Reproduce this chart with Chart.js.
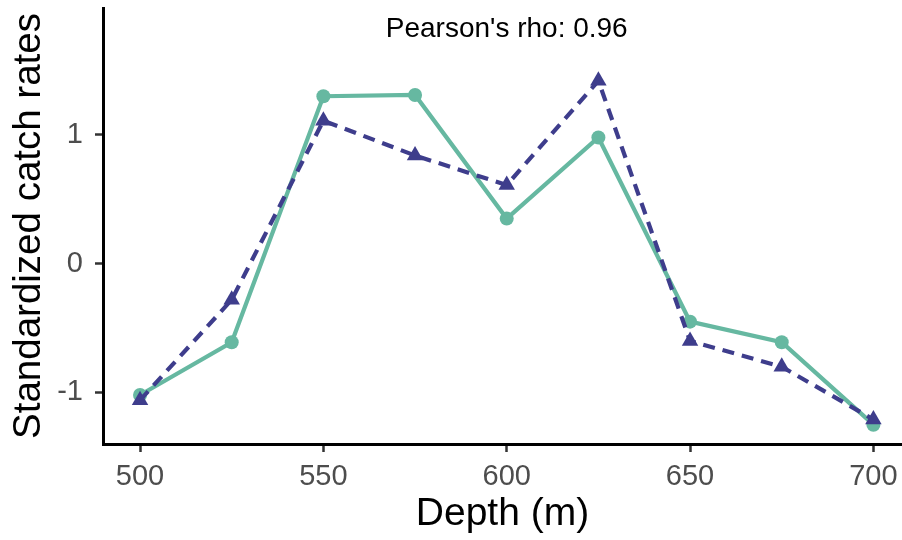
<!DOCTYPE html>
<html>
<head>
<meta charset="utf-8">
<script src="https://cdn.jsdelivr.net/npm/chart.js@4/dist/chart.umd.min.js"></script>
<style>
  html, body { margin: 0; padding: 0; background: #fff; }
  canvas { display: block; }
</style>
</head>
<body>
<canvas id="chart" width="902" height="540"></canvas>
<script>
// depths (m) and the two standardized catch-rate series
const depths = [500, 525, 550, 575, 600, 625, 650, 675, 700];
const seriesA = [-1.02, -0.61, 1.30, 1.31, 0.35, 0.98, -0.45, -0.61, -1.25];  // solid, circles
const seriesB = [-1.06, -0.28, 1.11, 0.84, 0.61, 1.42, -0.60, -0.80, -1.21];  // dashed, triangles

const xTicks = [500, 550, 600, 650, 700];
const yTicks = [-1, 0, 1];

const note = "Pearson's rho: 0.96";
const noteAt = {x: 600, y: 1.76};

const FONT = "'Liberation Sans', Arial, sans-serif";
const green = '#66b8a1';
const navy = '#3e3d8c';

function toPoints(ys) {
	let out = [];
	for (let i = 0; i < depths.length; i++) {
		out.push({x: depths[i], y: ys[i]});
	}
	return out;
}

// keep the scales from reserving extra room for half labels
function noPadding(scale) {
	scale.paddingTop = 0;
	scale.paddingBottom = 0;
	scale.paddingLeft = 0;
	scale.paddingRight = 0;
}

const notePlugin = {
	id: 'note',
	afterDatasetsDraw(chart) {
		const ctx = chart.ctx;
		const px = chart.scales.x.getPixelForValue(noteAt.x);
		const py = chart.scales.y.getPixelForValue(noteAt.y);
		ctx.save();
		ctx.font = '28px ' + FONT;
		ctx.fillStyle = '#000';
		ctx.textAlign = 'center';
		ctx.textBaseline = 'alphabetic';
		ctx.fillText(note, px, py);
		ctx.restore();
	}
};

new Chart(document.getElementById('chart'), {
	type: 'line',
	data: {
		datasets: [
			{
				data: toPoints(seriesB),
				borderColor: navy,
				backgroundColor: navy,
				borderWidth: 4.2,
				borderDash: [12, 8],
				pointStyle: 'triangle',
				pointRadius: 9.5,
				pointBorderWidth: 0,
				pointBackgroundColor: navy,
				tension: 0
			},
			{
				data: toPoints(seriesA),
				borderColor: green,
				backgroundColor: green,
				borderWidth: 4.2,
				pointStyle: 'circle',
				pointRadius: 7,
				pointBorderWidth: 0,
				pointBackgroundColor: green,
				tension: 0
			}
		]
	},
	options: {
		responsive: false,
		animation: false,
		layout: {autoPadding: false, padding: {top: 8, right: 0, left: 0, bottom: 0}},
		plugins: {
			legend: {display: false},
			tooltip: {enabled: false}
		},
		scales: {
			x: {
				type: 'linear',
				min: 489.9,
				max: 707.8,
				afterFit(scale) { scale.height = 96; noPadding(scale); },
				afterBuildTicks(scale) { scale.ticks = xTicks.map(v => ({value: v})); },
				border: {display: true, color: '#000', width: 3},
				grid: {display: true, drawOnChartArea: false, drawTicks: true, tickLength: 8, tickColor: '#333', tickWidth: 2.5},
				ticks: {color: '#4d4d4d', padding: 8, font: {family: FONT, size: 29}, maxRotation: 0},
				title: {display: true, text: 'Depth (m)', color: '#000', font: {family: FONT, size: 39}, padding: {top: 0, bottom: 2}}
			},
			y: {
				type: 'linear',
				min: -1.4,
				max: 1.985,
				afterFit(scale) { scale.width = 103; noPadding(scale); },
				afterBuildTicks(scale) { scale.ticks = yTicks.map(v => ({value: v})); },
				border: {display: true, color: '#000', width: 3},
				grid: {display: true, drawOnChartArea: false, drawTicks: true, tickLength: 8, tickColor: '#333', tickWidth: 2.5},
				ticks: {color: '#4d4d4d', padding: 12, font: {family: FONT, size: 29}},
				title: {display: true, text: 'Standardized catch rates', color: '#000', font: {family: FONT, size: 38.5}, padding: {top: 6, bottom: 0}}
			}
		}
	},
	plugins: [notePlugin]
});
</script>
</body>
</html>
